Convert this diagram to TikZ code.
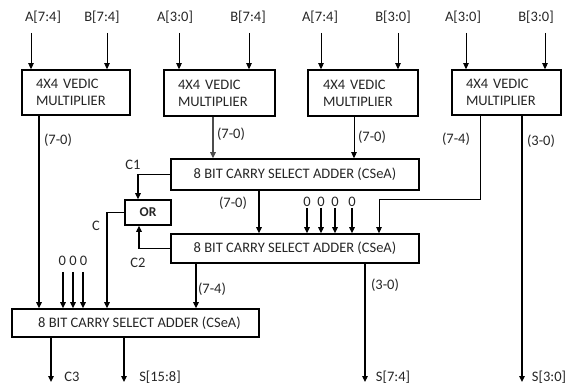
\documentclass[tikz,border=0pt]{standalone}
\usepackage{fontspec}
\setmainfont{Carlito}
\usetikzlibrary{arrows.meta}
\begin{document}
\begin{tikzpicture}[x=1pt,y=-1pt,
  every node/.style={font=\fontsize{14.5}{17}\selectfont, text=black!85},
  blk/.style={draw, line width=1.6pt, inner sep=0pt, align=left},
  lbl/.style={inner sep=0pt},
  thin/.style={line width=0.7pt},
  med/.style={line width=1.1pt},
  thick2/.style={line width=1.8pt},
  arr/.style={-{Triangle[length=6pt,width=5.5pt]}}]
\useasboundingbox (0,0) rectangle (571,385);
% multipliers
\node[blk, minimum width=108pt, minimum height=45pt, text width=80pt] (m1) at (76,92.5) {4X4 VEDIC\\MULTIPLIER};
\node[blk, minimum width=111pt, minimum height=46pt, text width=83pt] (m2) at (219.5,93) {\raisebox{-3pt}{4X4 VEDIC}\\\raisebox{-3pt}{MULTIPLIER}};
\node[blk, minimum width=110pt, minimum height=46pt, text width=80pt] (m3) at (363,93) {\raisebox{-2pt}{4X4 VEDIC}\\\raisebox{-2pt}{MULTIPLIER}};
\node[blk, minimum width=109pt, minimum height=45pt, text width=81pt] (m4) at (506.5,92.5) {4X4 VEDIC\\MULTIPLIER};
% adders
\node[blk, minimum width=248pt, minimum height=31pt] (cs1) at (295,174.5) {8 BIT CARRY SELECT ADDER (CSeA)};
\node[blk, minimum width=248pt, minimum height=29pt] (cs2) at (295,248.5) {8 BIT CARRY SELECT ADDER (CSeA)};
\node[blk, minimum width=247pt, minimum height=28pt] (cs3) at (135.5,323) {\hspace*{8pt}8 BIT CARRY SELECT ADDER (CSeA)};
\node[blk, minimum width=46pt, minimum height=25pt, font=\fontsize{13.5}{15}\selectfont\bfseries] (or) at (148,212.5) {OR};
% input labels
\node[lbl] (la1) at (43,17) {A[7:4]};
\node[lbl] (lb1) at (102,17) {B[7:4]};
\node[lbl] (la2) at (175,17) {A[3:0]};
\node[lbl] (lb2) at (248,17) {B[7:4]};
\node[lbl] (la3) at (320,17) {A[7:4]};
\node[lbl] (lb3) at (393,17) {B[3:0]};
\node[lbl] (la4) at (463,17) {A[3:0]};
\node[lbl] (lb4) at (536,17) {B[3:0]};
% input arrows
\foreach \x/\m in {31/m1,107/m1,179/m2,249/m2,321/m3,398/m3,466/m4,545/m4}{
  \coordinate (s\x) at (\x,33);
  \draw[thin,arr] (s\x) -- (s\x |- \m.north);
}
% x helpers
\coordinate (x39) at (39,0);
\coordinate (x213) at (213,0);
\coordinate (x354) at (354,0);
\coordinate (x480) at (480,0);
\coordinate (x522) at (522,0);
\coordinate (x259) at (259,0);
\coordinate (x196) at (196,0);
\coordinate (x365) at (365,0);
\coordinate (x51) at (51,0);
\coordinate (x124) at (124,0);
\coordinate (bot) at (0,382);
% multiplier outputs
\draw[med,arr] (x39 |- m1.south) -- (x39 |- cs3.north);
\node[lbl] (l70a) at (58,140) {(7-0)};
\draw[med,arr,draw=black!70] (x213 |- m2.south) -- (x213 |- cs1.north);
\node[lbl] (l70b) at (231,134) {(7-0)};
\draw[thin,arr] (x354 |- m3.south) -- (x354 |- cs1.north);
\node[lbl] (l70c) at (372,137) {(7-0)};
\coordinate (k1) at (480,199);
\coordinate (k2) at (379,199);
\draw[thin,arr] (x480 |- m4.south) -- (k1) -- (k2) -- (k2 |- cs2.north);
\node[lbl] (l74a) at (456,139) {(7-4)};
\draw[thick2,arr] (x522 |- m4.south) -- (x522 |- bot);
\node[lbl] (l30a) at (541,141) {(3-0)};
\node[lbl] (s30) at (549,377) {S[3:0]};
% carries and OR
\coordinate (c1a) at (138,0);
\draw[med,arr] (cs1.west) -- (c1a |- cs1.west) -- (c1a |- or.north);
\node[lbl] (lc1) at (133,165) {C1};
\coordinate (c2a) at (139,0);
\draw[med,arr] (cs2.west) -- (c2a |- cs2.west) -- (c2a |- or.south);
\node[lbl] (lc2) at (138,263) {C2};
\coordinate (ca) at (107,0);
\draw[med,arr] (or.west) -- (ca |- or.west) -- (ca |- cs3.north);
\node[lbl] (lc) at (96,226) {C};
% cs1 to cs2
\draw[med,arr] (x259 |- cs1.south) -- (x259 |- cs2.north);
\node[lbl] (l70d) at (233,203) {(7-0)};
\foreach \x in {307,321,335,352}{
  \node[lbl] (z\x) at (\x,202) {0};
  \coordinate (zs\x) at (\x,208);
  \draw[med,arr] (zs\x) -- (zs\x |- cs2.north);
}
% cs2 outputs
\draw[med,arr] (x196 |- cs2.south) -- (x196 |- cs3.north);
\node[lbl] (l74b) at (212,289) {(7-4)};
\draw[med,arr] (x365 |- cs2.south) -- (x365 |- bot);
\node[lbl] (l30b) at (385,285) {(3-0)};
\node[lbl] (s74) at (393,377) {S[7:4]};
% zeros into cs3
\node[lbl] (z3) at (73,261) {0 0 0};
\foreach \x in {63,73,83}{
  \coordinate (zz\x) at (\x,272);
  \draw[thick2,arr] (zz\x) -- (zz\x |- cs3.north);
}
% cs3 outputs
\draw[thick2,arr] (x51 |- cs3.south) -- (x51 |- bot);
\node[lbl] (lc3) at (72,377) {C3};
\draw[med,arr] (x124 |- cs3.south) -- (x124 |- bot);
\node[lbl] (s158) at (160,377) {S[15:8]};
\end{tikzpicture}
\end{document}
